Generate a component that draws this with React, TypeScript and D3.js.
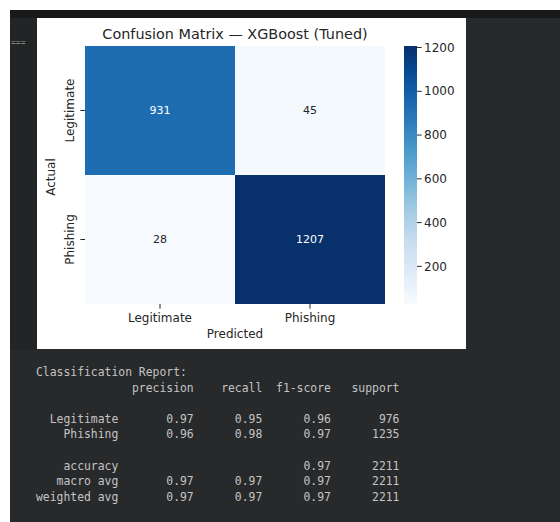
import React from "react";
import * as d3 from "d3";

// Confusion matrix counts (rows = actual, columns = predicted)
const classes: string[] = ["Legitimate", "Phishing"];
const matrixRows: number[][] = [
  [931, 45],
  [28, 1207],
];
const colorbarTicks: number[] = [200, 400, 600, 800, 1000, 1200];

// Classification report values
const reportHeaders: string[] = ["precision", "recall", "f1-score", "support"];
const reportClassLabels: string[] = ["Legitimate", "Phishing"];
const reportPrecision: number[] = [0.97, 0.96];
const reportRecall: number[] = [0.95, 0.98];
const reportF1: number[] = [0.96, 0.97];
const reportSupport: number[] = [976, 1235];
const accuracyValue = 0.97;
const totalSupport = 2211;
const avgLabels: string[] = ["macro avg", "weighted avg"];
const avgPrecision: number[] = [0.97, 0.97];
const avgRecall: number[] = [0.97, 0.97];
const avgF1: number[] = [0.97, 0.97];

// matplotlib "Blues" control colours (linear segments)
const bluesStops = [
  "#f7fbff", "#deebf7", "#c6dbef", "#9ecae1", "#6baed6",
  "#4292c6", "#2171b5", "#08519c", "#08306b",
];

const FONT = "'DejaVu Sans', Verdana, sans-serif";
const MONO = "'DejaVu Sans Mono', 'Liberation Mono', monospace";

function buildReportLines(): string[] {
  const w = 12;
  const num = (v: number) => " " + v.toFixed(2).padStart(9);
  const lines: string[] = [];
  lines.push("Classification Report:");
  lines.push("".padStart(w) + " " + reportHeaders.map((h) => " " + h.padStart(9)).join(""));
  lines.push("");
  reportClassLabels.forEach((lab, i) => {
    lines.push(
      lab.padStart(w) + " " + num(reportPrecision[i]) + num(reportRecall[i]) + num(reportF1[i]) +
        " " + String(reportSupport[i]).padStart(9)
    );
  });
  lines.push("");
  lines.push(
    "accuracy".padStart(w) + " " + " " + "".padStart(9) + " " + "".padStart(9) + num(accuracyValue) +
      " " + String(totalSupport).padStart(9)
  );
  avgLabels.forEach((lab, i) => {
    lines.push(
      lab.padStart(w) + " " + num(avgPrecision[i]) + num(avgRecall[i]) + num(avgF1[i]) +
        " " + String(totalSupport).padStart(9)
    );
  });
  return lines;
}

export default function App() {
  const W = 560;
  const H = 522;

  const flat = matrixRows.flat();
  const vmin = d3.min(flat) as number;
  const vmax = d3.max(flat) as number;

  const color = d3
    .scaleLinear<string>()
    .domain(bluesStops.map((_, i) => vmin + ((vmax - vmin) * i) / (bluesStops.length - 1)))
    .range(bluesStops)
    .interpolate(d3.interpolateRgb)
    .clamp(true);

  // heatmap area
  const x = d3.scaleBand<string>().domain(classes).range([85, 385]);
  const y = d3.scaleBand<string>().domain(classes).range([46, 304]);

  // colorbar
  const cbX = 404;
  const cbW = 13;
  const cbY = d3.scaleLinear().domain([vmin, vmax]).range([304, 46]);
  const gradStops = d3.range(0, 1.0001, 0.05);

  const reportLines = buildReportLines();
  const lineY = d3.scaleLinear().domain([0, 1]).range([376, 391.6]);

  const tickColor = "#262626";

  return (
    <svg
      width={W}
      height={H}
      style={{ position: "absolute", left: 0, top: 0, display: "block" }}
    >
      <defs>
        <linearGradient id="cbGrad" x1="0" y1="1" x2="0" y2="0">
          {gradStops.map((t) => (
            <stop key={t} offset={t} stopColor={color(vmin + t * (vmax - vmin))} />
          ))}
        </linearGradient>
      </defs>

      {/* page backgrounds */}
      <rect x={0} y={0} width={W} height={H} fill="#ffffff" />
      <rect x={10} y={10} width={W - 10} height={H - 10} fill="#27292b" />
      <rect x={10} y={10} width={W - 10} height={8} fill="#18191a" />
      <rect x={10} y={18} width={27} height={332} fill="#232425" />
      <text x={11} y={45} fontFamily={MONO} fontSize={8} fill="#9a9a9a">
        ===
      </text>

      {/* figure panel */}
      <rect x={37} y={18} width={429} height={331} fill="#ffffff" />

      {/* title */}
      <text x={235} y={39} textAnchor="middle" fontFamily={FONT} fontSize={14.4} fill="#262626">
        Confusion Matrix — XGBoost (Tuned)
      </text>

      {/* heatmap cells */}
      {matrixRows.map((row, i) =>
        row.map((v, j) => (
          <rect
            key={`c${i}${j}`}
            x={x(classes[j])}
            y={y(classes[i])}
            width={x.bandwidth()}
            height={y.bandwidth()}
            fill={color(v)}
          />
        ))
      )}

      {/* annotations */}
      {matrixRows.map((row, i) =>
        row.map((v, j) => {
          const t = (v - vmin) / (vmax - vmin);
          return (
            <text
              key={`a${i}${j}`}
              x={(x(classes[j]) as number) + x.bandwidth() / 2}
              y={(y(classes[i]) as number) + y.bandwidth() / 2}
              dy="0.35em"
              textAnchor="middle"
              fontFamily={FONT}
              fontSize={11}
              fill={t > 0.5 ? "#ffffff" : "#262626"}
            >
              {v}
            </text>
          );
        })
      )}

      {/* y axis ticks & labels */}
      {classes.map((c) => {
        const cy = (y(c) as number) + y.bandwidth() / 2;
        return (
          <g key={`yt${c}`}>
            <line x1={80.3} x2={85} y1={cy} y2={cy} stroke={tickColor} strokeWidth={1} />
            <text
              transform={`translate(70,${cy}) rotate(-90)`}
              dy="0.35em"
              textAnchor="middle"
              fontFamily={FONT}
              fontSize={12}
              fill="#262626"
            >
              {c}
            </text>
          </g>
        );
      })}
      <text
        transform={`translate(51,177) rotate(-90)`}
        dy="0.35em"
        textAnchor="middle"
        fontFamily={FONT}
        fontSize={12}
        fill="#262626"
      >
        Actual
      </text>

      {/* x axis ticks & labels */}
      {classes.map((c) => {
        const cx = (x(c) as number) + x.bandwidth() / 2;
        return (
          <g key={`xt${c}`}>
            <line x1={cx} x2={cx} y1={304} y2={308.7} stroke={tickColor} strokeWidth={1} />
            <text x={cx} y={322} textAnchor="middle" fontFamily={FONT} fontSize={12} fill="#262626">
              {c}
            </text>
          </g>
        );
      })}
      <text x={235} y={338} textAnchor="middle" fontFamily={FONT} fontSize={12} fill="#262626">
        Predicted
      </text>

      {/* colorbar */}
      <rect x={cbX} y={cbY(vmax)} width={cbW} height={cbY(vmin) - cbY(vmax)} fill="url(#cbGrad)" />
      {colorbarTicks.map((t) => (
        <g key={`cb${t}`}>
          <line
            x1={cbX + cbW}
            x2={cbX + cbW + 4.7}
            y1={cbY(t)}
            y2={cbY(t)}
            stroke={tickColor}
            strokeWidth={1}
          />
          <text
            x={cbX + cbW + 7}
            y={cbY(t)}
            dy="0.35em"
            fontFamily={FONT}
            fontSize={12}
            fill="#262626"
          >
            {t}
          </text>
        </g>
      ))}

      {/* classification report text */}
      {reportLines.map((ln, i) => (
        <text
          key={`r${i}`}
          x={36}
          y={lineY(i)}
          fontFamily={MONO}
          fontSize={11.4}
          fill="#c4c4c4"
          style={{ whiteSpace: "pre" }}
        >
          {ln}
        </text>
      ))}
    </svg>
  );
}
